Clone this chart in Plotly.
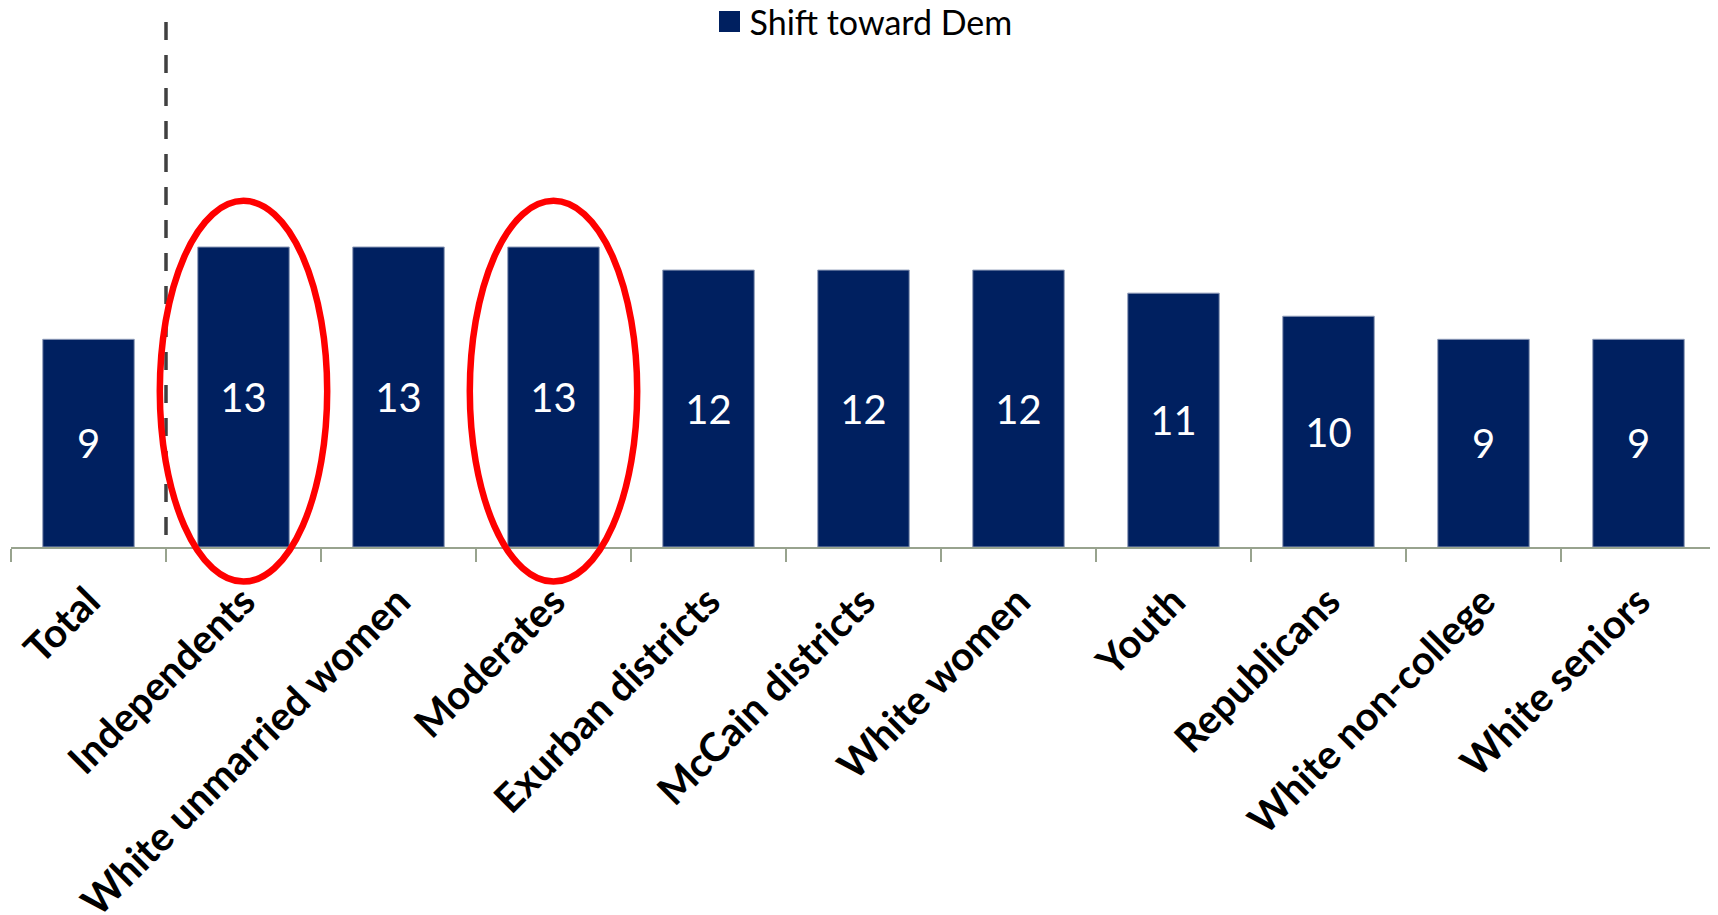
import plotly.graph_objects as go

categories = ["Total", "Independents", "White unmarried women", "Moderates",
              "Exurban districts", "McCain districts", "White women", "Youth",
              "Republicans", "White non-college", "White seniors"]
values = [9, 13, 13, 13, 12, 12, 12, 11, 10, 9, 9]
series_name = "Shift toward Dem"
highlighted = ["Independents", "Moderates"]

BAR = "#002060"
Y_MAX = 22.75
n = len(categories)

fig = go.Figure()
fig.add_trace(go.Bar(
    x=categories, y=values, name=series_name,
    marker=dict(color=BAR, line=dict(color="#8E9BB8", width=1)),
    width=0.59,
    text=[str(v) for v in values], textposition="inside",
    insidetextanchor="middle",
    textfont=dict(family="Lato", size=40, color="white"),
    showlegend=False,
))
# legend entry with a larger square swatch
fig.add_trace(go.Scatter(
    x=[None], y=[None], mode="markers", name=series_name,
    marker=dict(symbol="square", size=16, color=BAR,
                line=dict(color=BAR, width=5)),
    showlegend=True, hoverinfo="skip",
))

shapes = []
# dashed separator after "Total"
shapes.append(dict(type="line", xref="x domain", yref="paper",
                   x0=1 / n, x1=1 / n, y0=1, y1=0,
                   line=dict(color="#404040", width=3.5, dash="18px,15px")))
# red ellipses around highlighted categories
for c in highlighted:
    i = categories.index(c)
    v = values[i]
    shapes.append(dict(type="circle", xref="x domain", yref="y domain",
                       x0=(i + 0.5 - 0.54) / n, x1=(i + 0.5 + 0.54) / n,
                       y0=-1.5 / Y_MAX, y1=(v + 2.0) / Y_MAX,
                       line=dict(color="#FF0000", width=6.5), layer="above"))

fig.update_layout(
    width=1718, height=915,
    margin=dict(l=3, r=10, t=14, b=376, autoexpand=False),
    paper_bgcolor="white", plot_bgcolor="white",
    bargap=0.41,
    shapes=shapes,
    legend=dict(orientation="h", x=0.5, xanchor="center",
                yref="paper", y=1.0, yanchor="middle",
                font=dict(family="Lato", size=34, color="black"),
                bgcolor="rgba(0,0,0,0)", itemwidth=30),
    xaxis=dict(type="category", range=[-0.5, n - 0.5], automargin=False,
               showline=True, linecolor="#98A38E", linewidth=2,
               ticks="outside", ticklen=13, tickwidth=2, tickcolor="#98A38E",
               tickson="boundaries", tickangle=-45, ticklabelstandoff=13,
               tickfont=dict(family="Lato", size=40, color="black", weight="bold"),
               showgrid=False, fixedrange=True),
    yaxis=dict(visible=False, range=[0, Y_MAX], showgrid=False, zeroline=False,
               automargin=False),
)

fig.write_html("out.html")
